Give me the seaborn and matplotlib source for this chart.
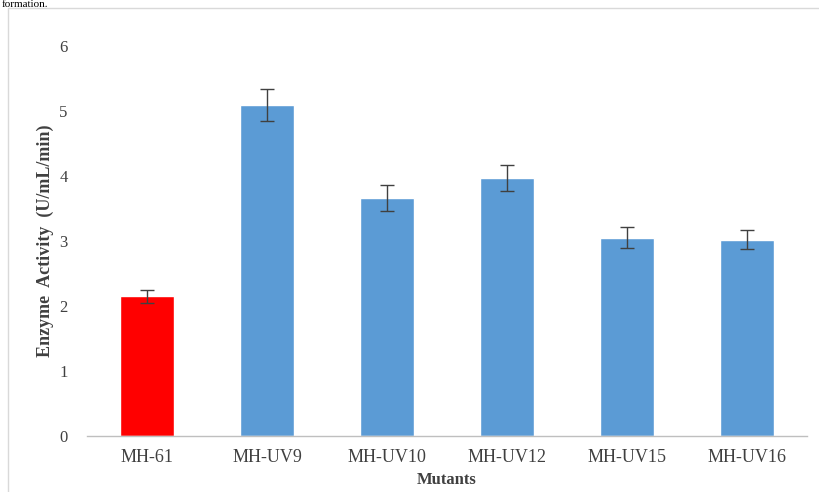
import pandas as pd
import numpy as np
import matplotlib
matplotlib.use("Agg")
import matplotlib.pyplot as plt
from matplotlib.patches import Rectangle
import seaborn as sns

# dados
mutants = ['MH-61', 'MH-UV9', 'MH-UV10', 'MH-UV12', 'MH-UV15', 'MH-UV16']
activity = [2.15, 5.09, 3.66, 3.97, 3.05, 3.02]
errors = [0.10, 0.25, 0.20, 0.20, 0.16, 0.15]
bar_colors = ['#FF0000', '#5B9BD5', '#5B9BD5', '#5B9BD5', '#5B9BD5', '#5B9BD5']

df = pd.DataFrame({'Mutants': mutants, 'Activity': activity, 'Err': errors})

sns.set_style("white")
plt.rcParams['font.family'] = ['Liberation Serif', 'DejaVu Serif']

fig = plt.figure(figsize=(8.19, 4.92), dpi=100)
ax = fig.add_axes([87 / 819, 1 - 436 / 492, 720 / 819, 390 / 492])

sns.barplot(data=df, x='Mutants', y='Activity', hue='Mutants', palette=bar_colors,
            legend=False, width=0.45, ax=ax, saturation=1, errorbar=None)
ax.errorbar(np.arange(len(mutants)), df['Activity'], yerr=df['Err'], fmt='none',
            ecolor='#404040', elinewidth=1, capsize=5, capthick=1)

ax.set_ylim(0, 6)
ax.set_xlim(-0.5, len(mutants) - 0.5)
ax.set_yticks(range(0, 7))
for s in ['top', 'right', 'left']:
    ax.spines[s].set_visible(False)
ax.spines['bottom'].set_color('#bfbfbf')
ax.spines['bottom'].set_linewidth(1)

# marcas entre categorias no eixo x
ax.set_xticks(np.arange(len(mutants)))
ax.set_xticks(np.arange(-0.5, len(mutants)), minor=True)
ax.tick_params(axis='x', which='major', length=0, pad=9)
ax.tick_params(axis='x', which='minor', length=5, color='#bfbfbf', width=1)
ax.tick_params(axis='y', length=0, pad=14)
ax.set_xticklabels(mutants, fontsize=13, color='#404040')
for lab in ax.get_yticklabels():
    lab.set_fontsize(12)
    lab.set_color('#404040')

ax.set_xlabel('Mutants', fontsize=12, fontweight='bold', color='#404040', labelpad=5)
ax.set_ylabel('Enzyme  Activity  (U/mL/min)', fontsize=13, fontweight='bold',
              color='#404040', labelpad=4)

# moldura do gráfico e texto do documento acima
fig.patches.append(Rectangle((8 / 819, -0.1), 1.2, 1 - 8 / 492 + 0.1,
                             transform=fig.transFigure, fill=False,
                             edgecolor='#d9d9d9', linewidth=1))
fig.text(0.002, 1 - 7 / 492, 'formation.', fontsize=8, color='black', va='baseline', ha='left')

fig.savefig('out.png', dpi=100)
plt.close()
